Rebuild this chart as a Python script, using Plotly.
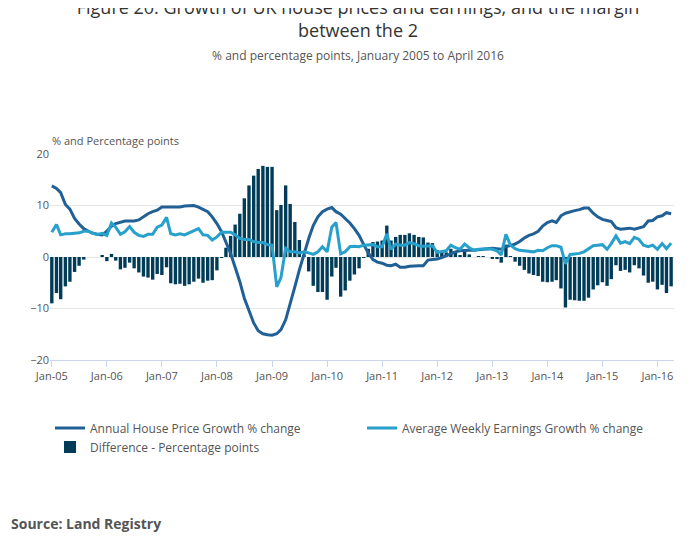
import plotly.graph_objects as go
import pandas as pd

months = pd.date_range("2005-01-01", "2016-04-01", freq="MS")

# Annual house price growth, % change
house = [13.8, 13.3, 12.5, 10.2, 9.3, 7.5, 6.4, 5.5, 5.0, 4.6, 4.4, 4.3,
         5.0, 6.0, 6.5, 6.8, 7.0, 7.0, 7.0, 7.2, 7.8, 8.4, 8.8, 9.1,
         9.7, 9.7, 9.6, 9.6, 9.7, 9.9, 10.0, 10.0, 9.7, 9.3, 8.8, 7.8,
         6.5, 4.9, 3.0, 0.7, -2.0, -4.8, -8.0, -10.5, -12.8, -14.3, -14.9, -15.1,
         -15.2, -14.9, -14.1, -12.2, -9.3, -5.8, -2.5, 0.8, 3.6, 6.1, 7.8, 8.8,
         9.3, 9.6, 8.8, 8.3, 7.5, 6.6, 5.5, 4.2, 2.4, 0.8, -0.5, -1.0,
         -1.2, -1.6, -1.7, -1.4, -2.0, -2.0, -1.8, -1.7, -1.7, -1.7, -0.6, -0.5,
         -0.4, -0.1, 0.3, 0.7, 1.0, 1.2, 1.3, 1.3, 1.3, 1.4, 1.5, 1.6,
         1.7, 1.6, 1.5, 2.0, 2.2, 2.5, 3.0, 3.7, 4.2, 4.5, 5.0, 6.0,
         6.7, 7.0, 6.7, 8.0, 8.5, 8.8, 9.0, 9.2, 9.5, 9.5, 8.5, 7.8,
         7.3, 7.1, 6.9, 5.7, 5.4, 5.5, 5.6, 5.4, 5.6, 5.9, 7.0, 7.1,
         7.8, 8.0, 8.6, 8.4]

# Average weekly earnings growth, % change
earnings = [4.8, 6.3, 4.3, 4.5, 4.5, 4.6, 4.7, 5.0, 5.0, 4.6, 4.4, 4.6,
            4.2, 6.6, 5.8, 4.4, 4.9, 5.9, 4.8, 4.2, 4.0, 4.4, 4.4, 5.8,
            6.2, 7.7, 4.5, 4.3, 4.5, 4.3, 4.7, 5.2, 5.5, 4.3, 4.2, 3.3,
            3.9, 4.8, 4.8, 4.8, 4.3, 3.6, 3.4, 3.4, 3.0, 2.8, 2.8, 2.4,
            2.3, -5.8, -4.0, 1.7, 1.0, 1.0, 0.8, 1.0, 0.8, 0.5, 1.0, 2.0,
            1.0, 5.8, 6.7, 0.6, 1.0, 2.0, 2.1, 2.0, 2.3, 2.4, 2.4, 2.0,
            2.0, 4.5, 1.5, 2.5, 2.3, 2.3, 2.8, 2.6, 2.2, 2.1, 2.2, 2.2,
            0.9, 1.0, 1.2, 2.3, 1.8, 1.5, 2.5, 1.8, 1.3, 1.5, 1.6, 1.6,
            1.5, 1.2, 0.4, 4.4, 2.3, 1.6, 1.3, 1.2, 1.0, 1.0, 1.3, 1.2,
            1.8, 2.2, 2.2, 1.9, -1.3, 0.5, 0.6, 0.7, 1.0, 1.6, 2.2, 2.3,
            2.4, 1.5, 2.6, 4.1, 2.7, 3.0, 2.6, 3.8, 3.4, 2.3, 2.0, 2.3,
            1.5, 2.6, 1.6, 2.7]

# Difference, percentage points (earnings growth minus house price growth)
difference = [round(e - h, 1) for e, h in zip(earnings, house)]

tick_vals = pd.date_range("2005-01-01", "2016-01-01", freq="YS")
tick_text = [d.strftime("Jan-%y") for d in tick_vals]

fig = go.Figure()
fig.add_trace(go.Scatter(x=months, y=house, mode="lines",
                         name="Annual House Price Growth % change",
                         line=dict(color="#206095", width=3)))
fig.add_trace(go.Scatter(x=months, y=earnings, mode="lines",
                         name="Average Weekly Earnings Growth % change",
                         line=dict(color="#27a0cc", width=3)))
fig.add_trace(go.Bar(x=months, y=difference, name="Difference - Percentage points",
                     marker=dict(color="#003c57", line=dict(width=0))))

fig.update_layout(
    width=700, height=549,
    font=dict(family="Open Sans", color="#555555"),
    paper_bgcolor="white", plot_bgcolor="white",
    title=dict(text="Figure 20: Growth of UK house prices and earnings, and the margin<br>between the 2"
                    "<br><span style='font-size:12px;color:#555'>% and percentage points, January 2005 to April 2016</span>",
               x=0.5, y=0.99, yanchor="top", font=dict(size=18, color="#333333")),
    margin=dict(l=42, r=34, t=146, b=197),
    bargap=0.2,
    showlegend=True,
    legend=dict(orientation="h", x=0.0, y=-0.26, xanchor="left", yanchor="top",
                traceorder="normal", entrywidth=0.5, entrywidthmode="fraction",
                font=dict(size=12, color="#555555")),
    xaxis=dict(tickvals=tick_vals, ticktext=tick_text, ticks="outside", ticklen=6,
               tickcolor="#ccd6eb", showline=True, linecolor="#ccd6eb",
               range=["2004-12-20", "2016-04-20"], showgrid=False,
               tickfont=dict(size=11, color="#555555")),
    yaxis=dict(range=[-20, 20], dtick=10, gridcolor="#e6e6e6", zeroline=False,
               tickfont=dict(size=11, color="#555555")),
    annotations=[
        dict(text="% and Percentage points", xref="paper", yref="paper", x=0, y=1.02,
             xanchor="left", yanchor="bottom", showarrow=False,
             font=dict(size=11, color="#555555")),
        dict(text="<b>Source: Land Registry</b>", xref="paper", yref="paper", x=-0.066, y=-0.85,
             xanchor="left", yanchor="bottom", showarrow=False,
             font=dict(size=14, color="#555555")),
    ],
)

fig.write_html("out.html")
